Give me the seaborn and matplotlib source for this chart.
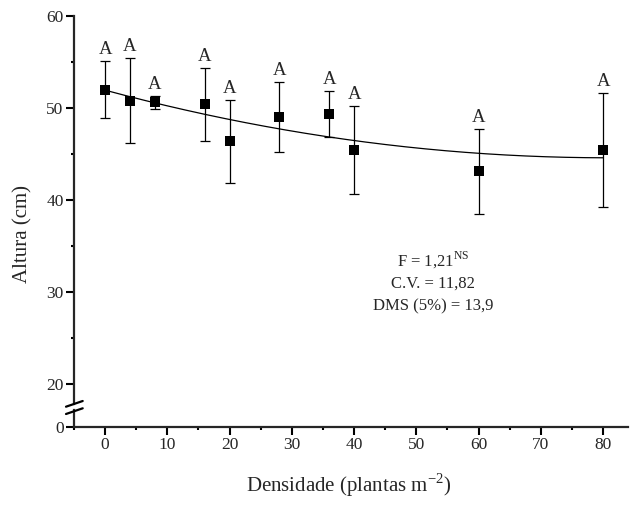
import numpy as np
import pandas as pd
import matplotlib
matplotlib.use("Agg")
import matplotlib.pyplot as plt
from matplotlib.lines import Line2D
from matplotlib.ticker import MultipleLocator
import seaborn as sns

# values
densidade = [0, 4, 8, 16, 20, 28, 36, 40, 60, 80]
altura = [52.0, 50.8, 50.6, 50.4, 46.4, 49.0, 49.4, 45.4, 43.1, 45.4]
erro = [3.1, 4.6, 0.7, 4.0, 4.5, 3.8, 2.5, 4.8, 4.6, 6.2]
letras = ["A", "A", "A", "A", "A", "A", "A", "A", "A", "A"]
estatisticas = ["F = 1,21$^{\\mathrm{NS}}$", "C.V. = 11,82", "DMS (5%) = 13,9"]

df = pd.DataFrame({"densidade": densidade, "altura": altura, "erro": erro})

# quadratic trend fitted on the means
coef = np.polyfit(df["densidade"], df["altura"], 2)
xs = np.linspace(0, 80, 200)
curva = pd.DataFrame({"densidade": xs, "altura": np.polyval(coef, xs)})

sns.set_style("ticks")
plt.rcParams["font.family"] = ["Liberation Serif", "DejaVu Serif"]
plt.rcParams["mathtext.fontset"] = "custom"
plt.rcParams["mathtext.rm"] = "Liberation Serif"

W, H = 644, 505
fig = plt.figure(figsize=(W / 100, H / 100), dpi=100)

def fx(px):
    return px / W

def fy(py):
    return 1 - py / H

left, right = 74, 628
ax = fig.add_axes([fx(left), fy(404), fx(right - left), fy(16) - fy(404)])
axb = fig.add_axes([fx(left), fy(427), fx(right - left), fy(410) - fy(427)])

# main panel
sns.lineplot(data=curva, x="densidade", y="altura", ax=ax, color="black", lw=0.9)
ax.errorbar(df["densidade"], df["altura"], yerr=df["erro"], fmt="none",
            ecolor="black", elinewidth=0.9, capsize=3.5, capthick=0.9)
sns.scatterplot(data=df, x="densidade", y="altura", ax=ax, marker="s", s=42,
                color="black", edgecolor="black", linewidth=0, zorder=5)

for xv, yv, ev, lt in zip(densidade, altura, erro, letras):
    ax.annotate(lt, (xv, yv + ev), xytext=(0, 5), textcoords="offset points",
                ha="center", va="baseline", fontsize=13.5)

for txt, yb in zip(estatisticas, [32.75, 30.43, 28.04]):
    ax.text(52.7, yb, txt, ha="center", va="baseline", fontsize=12)

ax.set_xlim(-5, 84)
ax.set_ylim(17.83, 60)
ax.yaxis.set_minor_locator(MultipleLocator(5))
ax.set_yticks([20, 30, 40, 50, 60])
ax.set_xlabel("")
ax.set_ylabel("")
ax.set_xticks([])
for s in ["top", "right", "bottom"]:
    ax.spines[s].set_visible(False)

# lower panel with the zero
axb.set_xlim(-5, 84)
axb.set_ylim(0, 1)
axb.set_yticks([0])
axb.xaxis.set_minor_locator(MultipleLocator(5))
axb.set_xticks(range(0, 81, 10))
for s in ["top", "right"]:
    axb.spines[s].set_visible(False)
axb.patch.set_alpha(0)

for a in (ax, axb):
    for s in ["left", "bottom"]:
        a.spines[s].set_linewidth(1.6)
    a.tick_params(which="major", length=5.5, width=1.5, labelsize=12.5, pad=2, color="black")
    a.tick_params(which="minor", length=2.5, width=1.5, color="black")

ax.tick_params(axis="x", which="both", bottom=False, labelbottom=False)
axb.tick_params(axis="y", which="minor", left=False)

# axis break marks
for y0 in (406.7, 414.0):
    fig.add_artist(Line2D([fx(66), fx(82.7)], [fy(y0), fy(y0 - 5.7)],
                          color="black", lw=1.6, transform=fig.transFigure))

fig.text(fx(23), fy(234), "Altura (cm)", rotation=90, ha="center", va="center", fontsize=15)
fig.text(fx(348.5), fy(492), "Densidade (plantas m$^{\\mathrm{-2}}$)", ha="center",
         va="baseline", fontsize=15)

fig.savefig("out.png", dpi=100, facecolor="white")
